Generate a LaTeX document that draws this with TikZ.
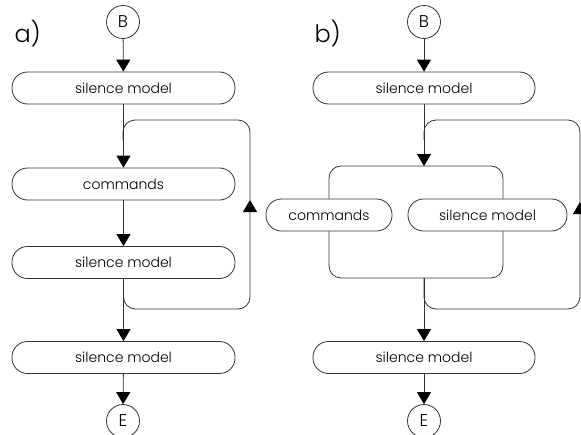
\documentclass[tikz,border=0pt]{standalone}
\usepackage{fontspec}
\setmainfont{Poppins}[UprightFont=* Light]
\usetikzlibrary{arrows.meta}
\tikzset{
  box/.style={draw=black!80, line width=0.8pt, rounded corners=15.5pt, minimum height=32pt, inner sep=0pt, font=\fontsize{14}{17}\selectfont},
  wide/.style={box, minimum width=223pt},
  term/.style={draw=black!80, line width=0.8pt, circle, minimum size=33pt, inner sep=0pt, font=\fontsize{17}{19}\selectfont},
  link/.style={draw=black!80, line width=0.8pt, rounded corners=12pt},
  arr/.style={link, -{Triangle[length=12pt, width=14pt, color=black, fill=black]}},
  plabel/.style={anchor=base west, font=\fontsize{24}{28}\selectfont}
}
\begin{document}
\begin{tikzpicture}[x=1pt, y=-1pt]
\useasboundingbox (0,0) rectangle (581,434);
% ---------- panel a ----------
\node[plabel] (la) at (11,42) {a)};
\node[term] (Ba) at (123,22) {B};
\node[wide] (s1a) at (123.5,88) {silence model};
\node[wide] (ca) at (123.5,184) {commands};
\node[wide] (s2a) at (123.5,262.5) {silence model};
\node[wide] (s3a) at (123.5,357.5) {silence model};
\node[term] (Ea) at (123,421) {E};
\coordinate (a1) at (250,309);
\coordinate (a2) at (250,200);
\coordinate (a3) at (123,120);
\coordinate (a4) at (123,140);
\draw[arr] (Ba) -- (s1a);
\draw[arr] (s1a) -- (ca);
\draw[arr] (ca) -- (s2a);
\draw[arr] (s2a) -- (s3a);
\draw[arr] (s3a) -- (Ea);
\draw[arr] (s2a.south) |- (a1) -- (a2);
\draw[link] (a2) |- (a3) -- (a4);
% ---------- panel b ----------
\node[plabel] (lb) at (311,42) {b)};
\node[term] (Bb) at (424,22) {B};
\node[wide, minimum width=222pt] (s1b) at (424,88) {silence model};
\node[box, minimum width=126pt] (cb) at (329,215) {commands};
\node[box, minimum width=159pt] (s2b) at (487.5,215) {silence model};
\node[wide, minimum width=222pt] (s3b) at (424,357.5) {silence model};
\node[term] (Eb) at (424,421) {E};
\coordinate (rx) at (503,0);
\coordinate (jt) at (424,166);
\coordinate (jb) at (424,278);
\coordinate (b1) at (580,309);
\coordinate (b2) at (580,202);
\coordinate (b3) at (424,120);
\coordinate (b4) at (424,140);
\draw[arr] (Bb) -- (s1b);
\draw[arr] (s1b) -- (jt);
\draw[link] (cb.north) |- (jt) -| (s2b.north -| rx);
\draw[link] (cb.south) |- (jb) -| (s2b.south -| rx);
\draw[arr] (jb) -- (s3b);
\draw[arr] (s3b) -- (Eb);
\draw[arr] (jb) |- (b1) -- (b2);
\draw[link] (b2) |- (b3) -- (b4);
\end{tikzpicture}
\end{document}
